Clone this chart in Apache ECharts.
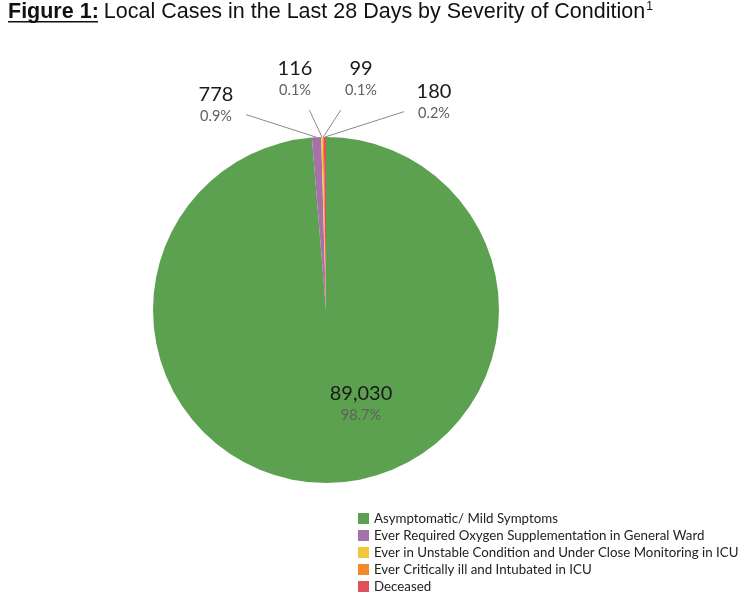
<!DOCTYPE html>
<html>
<head>
<meta charset="utf-8">
<script src="https://cdn.jsdelivr.net/npm/echarts@6/dist/echarts.min.js"></script>
<style>html,body{margin:0;padding:0;background:#fff}#c{width:747px;height:598px}</style>
</head>
<body>
<div id="c"></div>
<script>
const categories = [
  'Asymptomatic/ Mild Symptoms',
  'Ever Required Oxygen Supplementation in General Ward',
  'Ever in Unstable Condition and Under Close Monitoring in ICU',
  'Ever Critically ill and Intubated in ICU',
  'Deceased'
];
const values = [89030, 778, 116, 99, 180];
const percentLabels = ['98.7%', '0.9%', '0.1%', '0.1%', '0.2%'];
const colors = ['#5BA150', '#A670A8', '#EFC83E', '#F28A2C', '#E0505A'];

// label anchor points (label placement only)
const labelSpots = [[361, 404], [216, 105], [295, 79], [361, 79], [434, 102]];

const chart = echarts.init(document.getElementById('c'));
chart.setOption({
  animation: false,
  title: {
    left: 3, top: -4,
    text: '{b|Figure 1:} {n|Local Cases in the Last 28 Days by Severity of Condition}{s|1}',
    textStyle: {
      fontWeight: 'normal',
      rich: {
        b: { fontFamily: 'Liberation Sans', fontWeight: 'bold', fontSize: 21.5, color: '#111' },
        n: { fontFamily: 'Liberation Sans', fontWeight: 'normal', fontSize: 21.5, color: '#111' },
        s: { fontFamily: 'Liberation Sans', fontWeight: 'normal', fontSize: 12, color: '#111', verticalAlign: 'top', padding: [0, 0, 10, 1] }
      }
    }
  },
  graphic: [{
    type: 'rect', shape: { x: 8, y: 21, width: 90, height: 1.6 }, style: { fill: '#111' }
  }],
  legend: {
    orient: 'vertical', left: 353, top: 507, height: 120,
    itemWidth: 11, itemHeight: 11, itemGap: 4,
    icon: 'rect',
    textStyle: { fontFamily: 'Lato', fontSize: 13.3, color: '#222', padding: [0, 0, 0, 0] },
    data: categories
  },
  series: [{
    type: 'pie',
    center: [326, 310],
    radius: [0, 173],
    startAngle: 90,
    clockwise: true,
    color: colors,
    avoidLabelOverlap: false,
    data: categories.map((n, i) => ({ name: n, value: values[i], labelLine: { show: i !== 0 } })),
    label: {
      show: true,
      position: 'outside',
      formatter: p => '{v|' + p.value.toLocaleString('en-US') + '}\n{p|' + percentLabels[p.dataIndex] + '}',
      rich: {
        v: { fontFamily: 'Lato', fontSize: 20, color: '#1a1a1a', lineHeight: 22, align: 'center' },
        p: { fontFamily: 'Lato', fontSize: 14.5, color: '#606060', lineHeight: 20, align: 'center' }
      }
    },
    labelLine: { show: true, length: 10, length2: 10, lineStyle: { color: '#8a8a8a', width: 1 } },
    labelLayout: p => {
      const c = labelSpots[p.dataIndex];
      const out = { x: c[0], y: c[1], align: 'center', verticalAlign: 'middle' };
      const pts = p.labelLinePoints;
      if (p.dataIndex !== 0 && pts && pts[0]) {
        const end = pts[0];
        const dx = end[0] - c[0], dy = end[1] - c[1];
        const hw = 30, hh = 31;
        const t = Math.min(Math.abs(dx) > 0.01 ? hw / Math.abs(dx) : 1e9, Math.abs(dy) > 0.01 ? hh / Math.abs(dy) : 1e9);
        const start = [c[0] + dx * t, c[1] + dy * t];
        out.labelLinePoints = [[end[0], end[1]], start.slice(), start.slice()];
      }
      return out;
    },
    itemStyle: { borderWidth: 0 },
    emphasis: { disabled: true }
  }]
});
</script>
</body>
</html>
